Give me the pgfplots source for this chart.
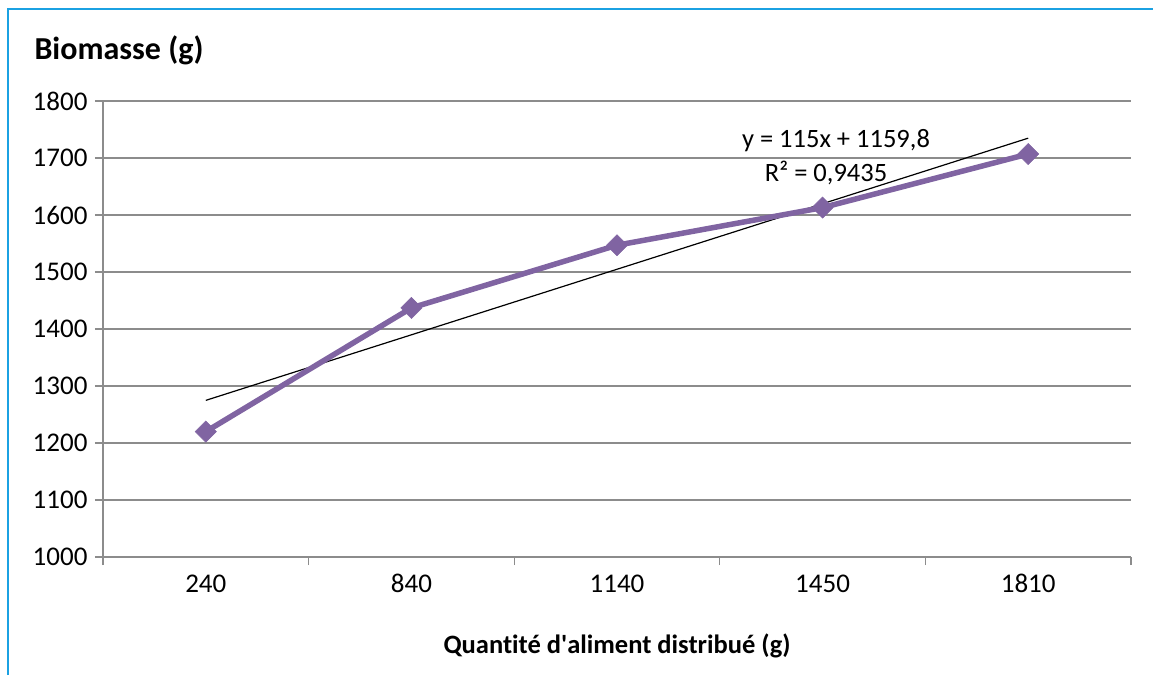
\documentclass[border=0pt]{standalone}
\usepackage{pgfplots}
\pgfplotsset{compat=1.18}
\usepackage{fontspec}
\setmainfont{Carlito}[Ligatures={NoCommon}]
\definecolor{linepurple}{HTML}{8064A2}
\definecolor{gridgray}{HTML}{8C8C8C}
\definecolor{borderblue}{HTML}{1BA1E2}
\begin{document}
\begin{tikzpicture}[x=1pt,y=1pt]
\useasboundingbox (0,0) rectangle (1153,675);
\draw[borderblue,line width=2pt] (8,0) -- (8,666) -- (1153,666);
\begin{axis}[
  at={(103pt,118pt)}, anchor=south west,
  scale only axis, width=1028pt, height=456pt,
  xmin=0.5, xmax=5.5, ymin=1000, ymax=1800,
  xtick={1,2,3,4,5}, xticklabels={240,840,1140,1450,1810},
  minor xtick={0.5,1.5,2.5,3.5,4.5,5.5},
  major x tick style={draw=none},
  minor x tick style={gridgray, line width=1.2pt},
  minor tick length=8pt,
  ytick={1000,1100,...,1800},
  ymajorgrids, major grid style={gridgray, line width=1.2pt},
  y tick style={gridgray, line width=1.2pt},
  major tick length=8pt,
  tick align=outside,
  axis line style={gridgray, line width=1.2pt},
  axis x line*=bottom, axis y line*=left,
  tick label style={font=\fontsize{27}{32}\selectfont},
  /pgf/number format/assume math mode=true,
  /pgf/number format/1000 sep={},
  xticklabel style={yshift=-6pt},
  yticklabel style={xshift=-4pt},
  clip=false,
]
\addplot[black, line width=1.2pt, forget plot] coordinates {(1,1274.8) (5,1734.8)};
\addplot[linepurple, line width=5.5pt, mark=square*, mark size=7.5pt,
  mark options={rotate=45, solid, line width=0.5pt}] coordinates {
  (1,1220) (2,1437) (3,1547) (4,1613) (5,1707)};
\node[font=\fontsize{26.5}{30}\selectfont] at (axis cs:4.065,1731) {y = 115x + 1159,8};
\node[font=\fontsize{26.5}{30}\selectfont] at (axis cs:4.017,1674) {R² = 0,9435};
\end{axis}
\node[font=\bfseries\fontsize{32}{38}\selectfont, anchor=west] at (31,625) {Biomasse (g)};
\node[font=\bfseries\fontsize{26.5}{30}\selectfont] at (617,29) {Quantité d\textquotesingle aliment distribué (g)};
\end{tikzpicture}
\end{document}
